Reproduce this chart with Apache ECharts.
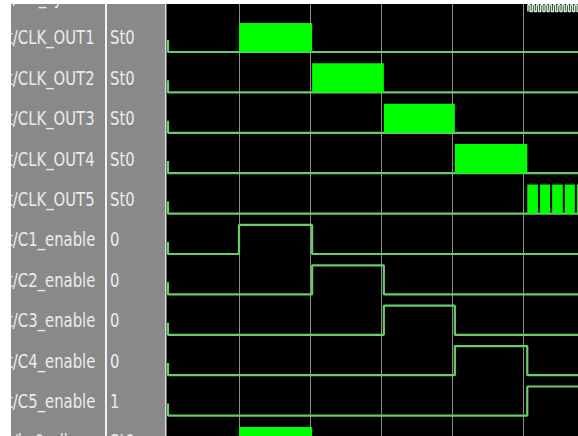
<!DOCTYPE html>
<html><head><meta charset="utf-8">
<script src="https://cdn.jsdelivr.net/npm/echarts@6/dist/echarts.min.js"></script>
<style>html,body{margin:0;padding:0;background:#fff}#c{width:578px;height:436px}</style>
</head><body><div id="c"></div>
<script>
// ---- data (time in cursor units) ----
const rowNames  = ['t/clk_sys','t/CLK_OUT1','t/CLK_OUT2','t/CLK_OUT3','t/CLK_OUT4','t/CLK_OUT5',
                   't/C1_enable','t/C2_enable','t/C3_enable','t/C4_enable','t/C5_enable','t/b_0_clk'];
const rowValues = ['0000000','St0','St0','St0','St0','St0','0','0','0','0','1','St0'];
const clkRows   = [1, 2, 3, 4, 5, 11];
const clkBursts = [
  [[1.00, 2.03]],
  [[2.03, 3.04]],
  [[3.04, 4.04]],
  [[4.04, 5.06]],
  [[5.06, 5.21], [5.24, 5.38], [5.41, 5.56], [5.59, 5.73], [5.76, 5.80]],
  [[1.00, 2.03]]
];
const enableRows    = [6, 7, 8, 9, 10];
const enableWindows = [[1.00, 2.03], [2.03, 3.04], [3.04, 4.04], [4.04, 5.06], [5.06, 5.80]];
const cursorTimes   = [1, 2, 3, 4, 5];
const fastClkRow    = 0;
const fastClkEdges  = [5.07, 5.10, 5.13, 5.16, 5.19, 5.22, 5.25, 5.28, 5.31, 5.34, 5.37, 5.40,
                       5.43, 5.46, 5.49, 5.52, 5.55, 5.58, 5.61, 5.64, 5.67, 5.70, 5.73, 5.76, 5.79];
const T_END = 5.80;

// ---- layout / style constants ----
const PX0 = 168, PXU = 71;            // pixel of t=0, pixels per time unit
const ROW0 = 11.6, ROWPX = 40.4;      // pixel of row-0 baseline, row pitch
const W = 578, H = 436;
const HIGH = 0.72, XSTUB = 0.3, FAST_HIGH = 0.17, LABEL_OFF = 0.36;
const NAME_T = (7 - PX0) / PXU, VALUE_T = (110 - PX0) / PXU;
const WAVE = '#68cc68', FILL = '#00ff00', CURSOR = '#8e8e8e', PANEL = '#898989';

const series = [];

// cursors
series.push({
  type: 'custom', z: 1, silent: true, clip: true,
  data: cursorTimes.map(t => [t]),
  renderItem: (p, api) => {
    const a = api.coord([api.value(0), -1]), b = api.coord([api.value(0), 12]);
    return { type: 'line', shape: { x1: Math.round(a[0]) + 0.5, y1: a[1], x2: Math.round(b[0]) + 0.5, y2: b[1] },
             style: { stroke: CURSOR, lineWidth: 1 } };
  }
});

// clock rows: baseline + filled bursts
const burstData = [];
clkRows.forEach((r, i) => {
  series.push({ type: 'line', z: 3, symbol: 'none', silent: true, animation: false,
    lineStyle: { color: WAVE, width: 2.2 },
    data: [[0, r - XSTUB], [0, r], [T_END, r]] });
  clkBursts[i].forEach(([a, b]) => burstData.push([a, b, r]));
});
series.push({
  type: 'custom', z: 4, silent: true, clip: true, data: burstData,
  encode: { x: [0, 1], y: 2 },
  renderItem: (p, api) => {
    const r = api.value(2);
    const s = api.coord([api.value(0), r - HIGH]), e = api.coord([api.value(1), r]);
    return { type: 'rect', shape: { x: s[0], y: s[1], width: e[0] - s[0], height: e[1] - s[1] },
             style: { fill: FILL } };
  }
});

// enable rows
enableRows.forEach((r, i) => {
  const [a, b] = enableWindows[i];
  const d = [[0, r - XSTUB], [0, r], [a, r], [a, r - HIGH], [b, r - HIGH]];
  if (b < T_END) d.push([b, r], [T_END, r]);
  series.push({ type: 'line', z: 3, symbol: 'none', silent: true, animation: false,
    lineStyle: { color: WAVE, width: 2.2 }, data: d });
});

// fast clock (top, partially visible row)
const fd = [];
fastClkEdges.forEach((t, k) => {
  const lo = fastClkRow, hi = fastClkRow - FAST_HIGH;
  if (k % 2 === 0) { fd.push([t, lo], [t, hi]); } else { fd.push([t, hi], [t, lo]); }
});
series.push({ type: 'line', z: 3, symbol: 'none', silent: true, animation: false,
  lineStyle: { color: '#d6eed6', width: 1.5 }, data: fd });

// text columns
const textData = [];
rowNames.forEach((n, r) => {
  textData.push([NAME_T, r - LABEL_OFF, n]);
  textData.push([VALUE_T, r - LABEL_OFF, rowValues[r]]);
});
series.push({
  type: 'custom', z: 5, silent: true, clip: false,
  data: textData,
  renderItem: (p, api) => {
    const c = api.coord([api.value(0), api.value(1)]);
    return { type: 'text', x: c[0], y: c[1], scaleY: 1.15,
      style: { text: textData[p.dataIndex][2], fill: '#ececec',
               font: '16.5px "DejaVu Sans Condensed", "DejaVu Sans"', align: 'left', verticalAlign: 'middle' } };
  }
});

const chart = echarts.init(document.getElementById('c'), null, { renderer: 'svg' });
chart.setOption({
  animation: false,
  backgroundColor: '#000',
  grid: { left: 0, right: 0, top: 0, bottom: 0 },
  xAxis: { type: 'value', min: -PX0 / PXU, max: (W - PX0) / PXU, show: false },
  yAxis: { type: 'value', inverse: true, min: -ROW0 / ROWPX, max: (H - ROW0) / ROWPX, show: false },
  graphic: [
    { type: 'rect', z: 0, silent: true, shape: { x: 11, y: 0, width: 94, height: H }, style: { fill: PANEL } },
    { type: 'rect', z: 0, silent: true, shape: { x: 105, y: 0, width: 2, height: H }, style: { fill: '#f2f2f2' } },
    { type: 'rect', z: 0, silent: true, shape: { x: 107, y: 0, width: 58, height: H }, style: { fill: PANEL } },
    { type: 'rect', z: 0, silent: true, shape: { x: 165, y: 0, width: 1.5, height: H }, style: { fill: '#dcdcdc' } },
    { type: 'rect', z: 100, silent: true, shape: { x: 0, y: 0, width: W, height: 4 }, style: { fill: '#fff' } },
    { type: 'rect', z: 100, silent: true, shape: { x: 0, y: 0, width: 11, height: H }, style: { fill: '#fff' } }
  ],
  series
});
</script></body></html>
